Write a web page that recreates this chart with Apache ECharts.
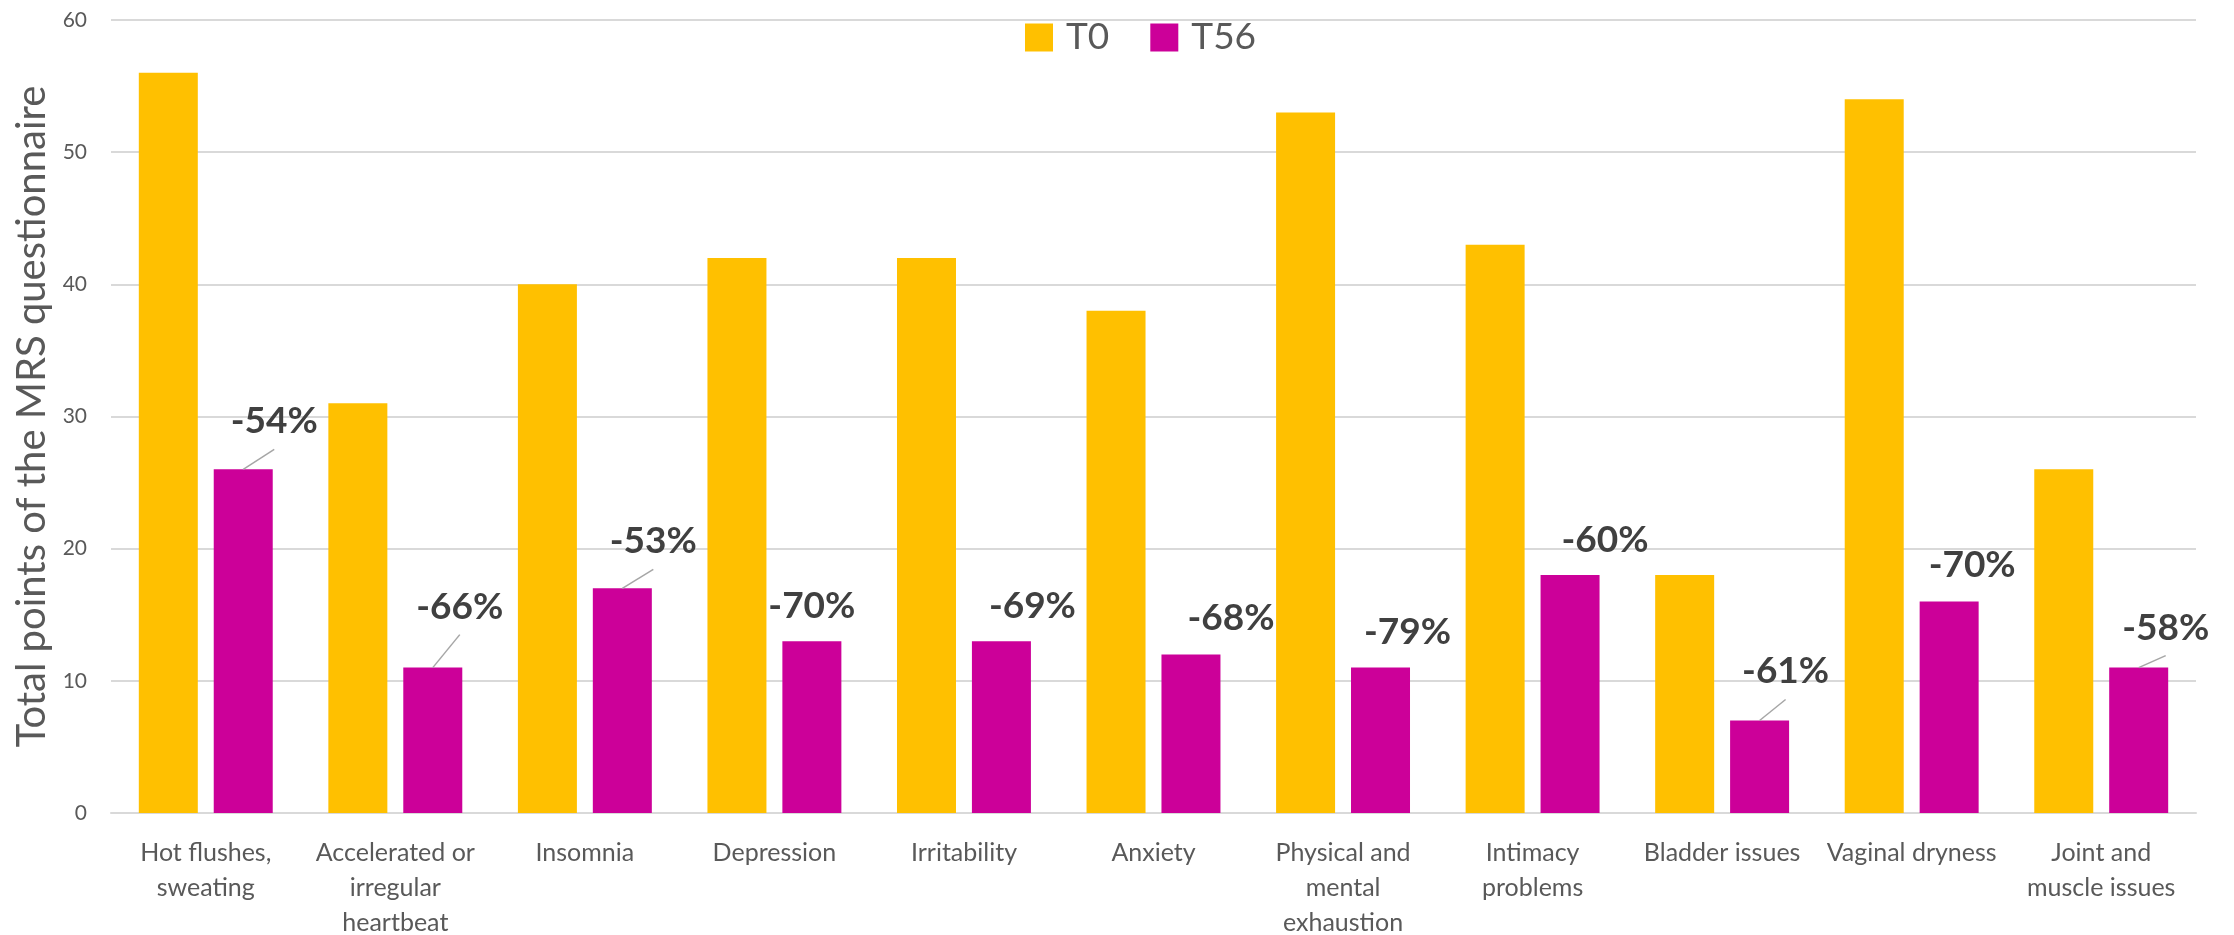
<!DOCTYPE html>
<html>
<head>
<meta charset="utf-8">
<title>MRS questionnaire: T0 vs T56</title>
<script src="https://cdn.jsdelivr.net/npm/echarts@6/dist/echarts.min.js"></script>
<style>
  html, body { margin: 0; padding: 0; background: #ffffff; }
  #chart { width: 2234px; height: 935px; }
</style>
</head>
<body>
<div id="chart"></div>
<script>
// Symptom categories (line breaks as shown under the axis)
const categories = [
  'Hot flushes,\nsweating',
  'Accelerated or\nirregular\nheartbeat',
  'Insomnia',
  'Depression',
  'Irritability',
  'Anxiety',
  'Physical and\nmental\nexhaustion',
  'Intimacy\nproblems',
  'Bladder issues',
  'Vaginal dryness',
  'Joint and\nmuscle issues'
];

// Total MRS points at baseline (T0) and after 56 days (T56)
const t0Values  = [56, 31, 40, 42, 42, 38, 53, 43, 18, 54, 26];
const t56Values = [26, 11, 17, 13, 13, 12, 11, 18, 7, 16, 11];

// Relative change printed above each T56 bar
const changeLabels = ['-54%', '-66%', '-53%', '-70%', '-69%', '-68%', '-79%', '-60%', '-61%', '-70%', '-58%'];

// Value-axis ticks
const yTicks = [0, 10, 20, 30, 40, 50, 60];

// ---- layout of the bars and the change callouts ----
const BAR_W = 59;
const BAR_GAP = 0.27;
const PAIR_SHIFT = BAR_W * (1 + BAR_GAP) / 2;   // centre of the T56 bar relative to the category centre

// callout offset (px) from the top-centre of each T56 bar to the centre of its text
const calloutShift = [
  [31, -48], [27, -61], [31, -47], [0, -35], [31, -35], [40, -36],
  [27, -36], [35, -35], [26, -49], [23, -36], [27, -40]
];
// which callouts get a thin leader line back to the bar
const calloutLeader = [true, true, true, false, false, false, false, false, true, false, true];

const FONT = 'Lato, "Open Sans", "Liberation Sans", sans-serif';
const GREY_TEXT = '#595959';

const chart = echarts.init(document.getElementById('chart'), null, { renderer: 'canvas' });

const t56Data = t56Values.map((v, i) => ({
  value: v,
  label: {
    formatter: changeLabels[i],
    offset: calloutShift[i]
  }
}));

const option = {
  backgroundColor: '#ffffff',
  animation: false,
  textStyle: { fontFamily: FONT },
  legend: {
    data: ['T0', 'T56'],
    left: 1020,
    top: 14,
    itemWidth: 28,
    itemHeight: 28,
    itemGap: 41,
    icon: 'rect',
    textStyle: { fontFamily: FONT, fontSize: 37, color: GREY_TEXT, padding: [0, 0, 0, 8] }
  },
  grid: {
    left: 111, right: 38, top: 20, bottom: 122,
    containLabel: false,
    outerBoundsMode: 'none'
  },
  xAxis: {
    type: 'category',
    data: categories,
    axisTick: { show: false },
    axisLine: { show: true, lineStyle: { color: '#D9D9D9', width: 2 } },
    axisLabel: {
      interval: 0,
      margin: 22,
      color: GREY_TEXT,
      fontFamily: FONT,
      fontSize: 25,
      lineHeight: 35
    }
  },
  yAxis: {
    type: 'value',
    min: yTicks[0],
    max: yTicks[yTicks.length - 1],
    interval: yTicks[1] - yTicks[0],
    name: 'Total points of the MRS questionnaire',
    nameLocation: 'middle',
    nameGap: 58,
    nameTextStyle: { fontFamily: FONT, fontSize: 40, color: GREY_TEXT },
    axisLine: { show: false },
    axisTick: { show: false },
    axisLabel: { color: GREY_TEXT, fontFamily: FONT, fontSize: 21, margin: 24 },
    splitLine: { show: true, lineStyle: { color: '#D9D9D9', width: 2 } }
  },
  series: [
    {
      name: 'T0',
      type: 'bar',
      data: t0Values,
      barWidth: BAR_W,
      barGap: (BAR_GAP * 100) + '%',
      itemStyle: { color: '#FFC000' }
    },
    {
      name: 'T56',
      type: 'bar',
      data: t56Data,
      barWidth: BAR_W,
      barGap: (BAR_GAP * 100) + '%',
      itemStyle: { color: '#CC0099' },
      label: {
        show: true,
        position: 'top',
        distance: 0,
        align: 'center',
        verticalAlign: 'middle',
        fontFamily: FONT,
        fontWeight: 'bold',
        fontSize: 37,
        color: '#404040'
      }
    },
    {
      // leader lines joining a callout to its bar
      type: 'custom',
      silent: true,
      z: 5,
      data: t56Values.map((v, i) => [i, v]),
      renderItem: function (params, api) {
        const i = api.value(0);
        if (!calloutLeader[i]) return null;
        const top = api.coord([i, api.value(1)]);
        const x0 = top[0] + PAIR_SHIFT;
        const d = calloutShift[i];
        return {
          type: 'line',
          shape: { x1: x0, y1: top[1], x2: x0 + d[0], y2: top[1] + d[1] + 28 },
          style: { stroke: '#A6A6A6', lineWidth: 1.5 }
        };
      }
    }
  ]
};

chart.setOption(option);
</script>
</body>
</html>
